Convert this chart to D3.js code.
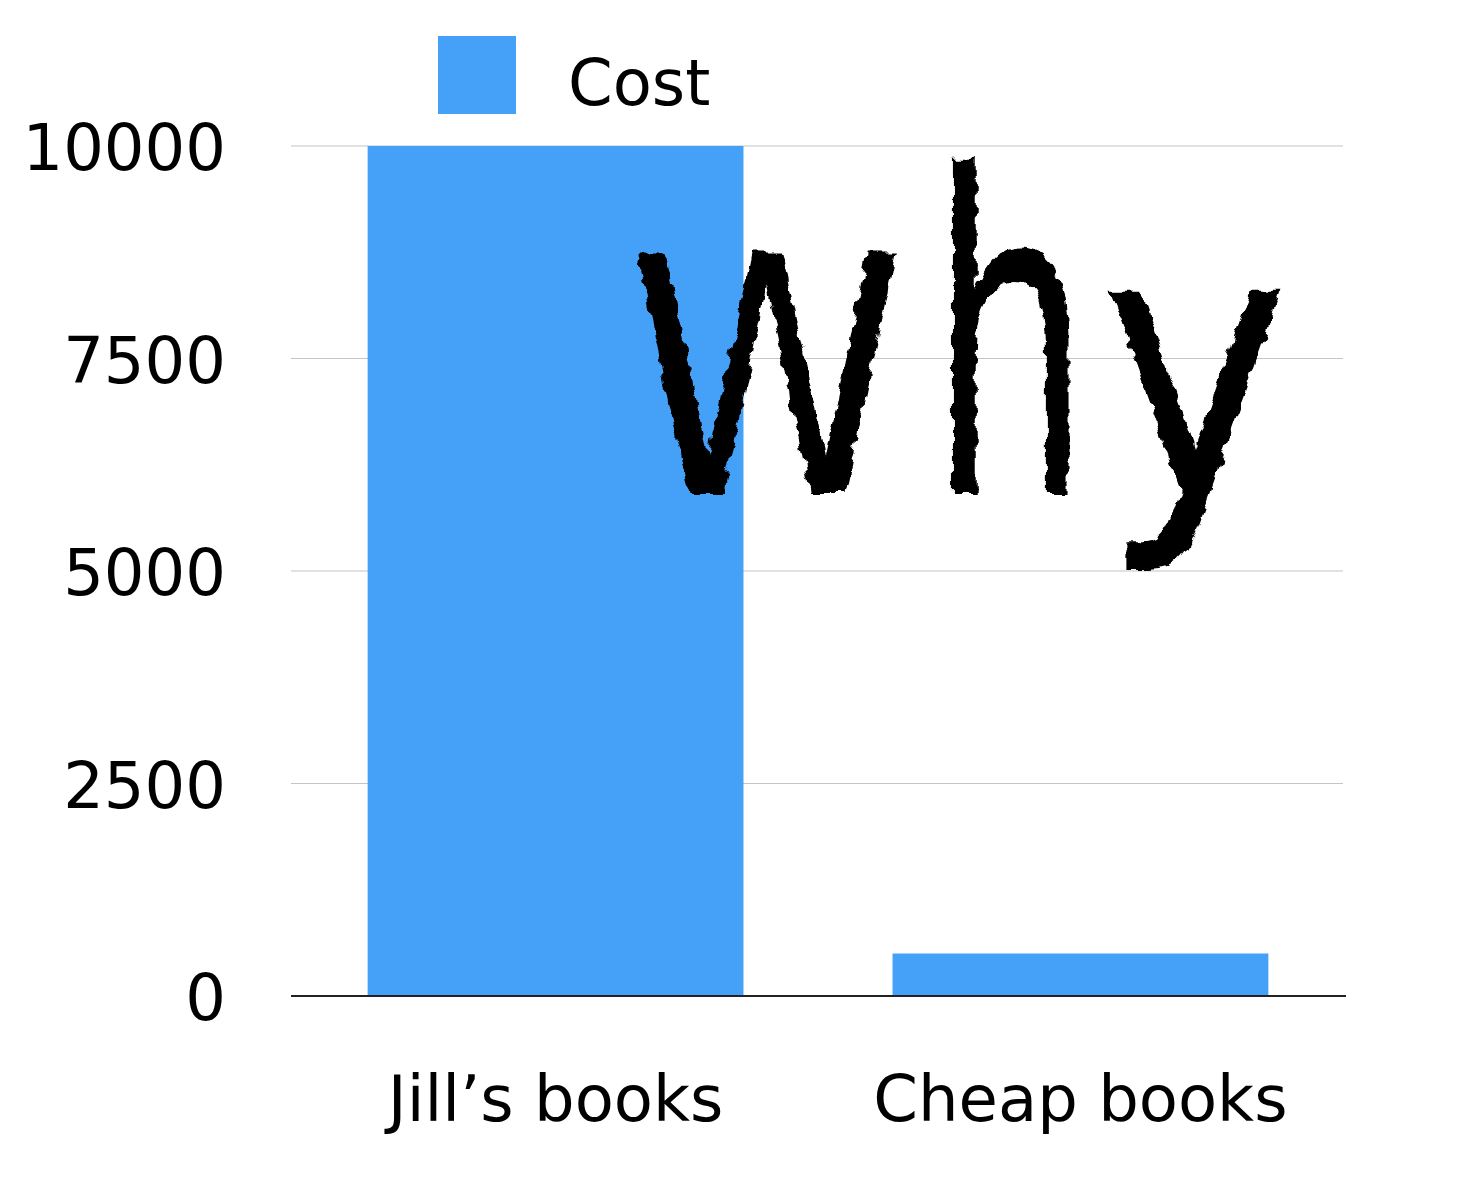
<!DOCTYPE html>
<html><head><meta charset="utf-8">
<script src="https://cdn.jsdelivr.net/npm/d3@7"></script>
<style>body{margin:0;background:#fff}svg{display:block}</style>
</head><body>
<script>
const categories = ["Jill\u2019s books", "Cheap books"];
const costValues = [10000, 500];
const yTicks = [0, 2500, 5000, 7500, 10000];
const seriesName = "Cost";
const overlayLetters = ["W", "h", "y"];

const W = 1474, H = 1185;
const font = "'DejaVu Sans', sans-serif";
const blue = "#44a1f7";
const svg = d3.select("body").append("svg").attr("width", W).attr("height", H);

const defs = svg.append("defs");
const f = defs.append("filter").attr("id","rough").attr("filterUnits","userSpaceOnUse")
  .attr("x",0).attr("y",0).attr("width",W).attr("height",H);
f.append("feTurbulence").attr("type","fractalNoise").attr("baseFrequency","0.07").attr("numOctaves",2).attr("seed",5).attr("result","n");
f.append("feDisplacementMap").attr("in","SourceGraphic").attr("in2","n").attr("scale",12).attr("xChannelSelector","R").attr("yChannelSelector","G");

const x = d3.scaleBand().domain(categories).range([291, 1345]).paddingInner(0.284).paddingOuter(0.146);
const y = d3.scaleLinear().domain([0, 10000]).range([996, 146]);

// gridlines
svg.append("g").selectAll("line").data(yTicks.filter(d => d > 0)).join("line")
  .attr("x1", 291).attr("x2", 1343).attr("y1", d => y(d)).attr("y2", d => y(d))
  .attr("stroke", "#c4c4c4").attr("stroke-width", 1.2);

// bars
svg.append("g").selectAll("rect").data(categories).join("rect")
  .attr("x", d => x(d)).attr("width", x.bandwidth())
  .attr("y", (d, i) => y(costValues[i])).attr("height", (d, i) => y(0) - y(costValues[i]))
  .attr("fill", blue);

// baseline
svg.append("line").attr("x1", 291).attr("x2", 1346).attr("y1", y(0)).attr("y2", y(0))
  .attr("stroke", "#222").attr("stroke-width", 2);

// y labels
svg.append("g").selectAll("text").data(yTicks).join("text")
  .attr("x", 226).attr("y", d => y(d) + 24).attr("text-anchor", "end")
  .attr("font-family", font).attr("font-size", 64).attr("fill", "#000").text(d => d);

// x labels
svg.append("g").selectAll("text").data(categories).join("text")
  .attr("x", d => x(d) + x.bandwidth() / 2).attr("y", 1121).attr("text-anchor", "middle")
  .attr("font-family", font).attr("font-size", 64).attr("fill", "#000").text(d => d);

// legend
svg.append("rect").attr("x", 438).attr("y", 36).attr("width", 78).attr("height", 78).attr("fill", blue);
svg.append("text").attr("x", 568).attr("y", 105).attr("font-family", font).attr("font-size", 64)
  .attr("fill", "#000").text(seriesName);

// overlay "Why"
const letterX = [628, 930, 1100];
const letterW = [277, 160, 190];
const letterSize = [330, 440, 370];
const ov = svg.append("text").attr("y", 493)
  .attr("font-family", font).attr("fill", "#000").attr("filter", "url(#rough)");
ov.selectAll("tspan").data(overlayLetters).join("tspan")
  .attr("x", (d, i) => letterX[i]).attr("font-size", (d, i) => letterSize[i])
  .attr("textLength", (d, i) => letterW[i]).attr("lengthAdjust", "spacingAndGlyphs")
  .text(d => d);
</script>
</body></html>
